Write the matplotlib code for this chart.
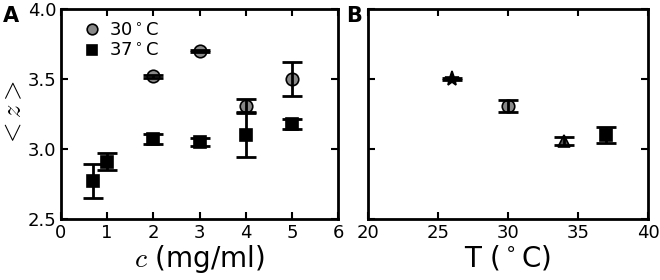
import matplotlib
matplotlib.use("Agg")
import matplotlib.pyplot as plt

# panel A: <z> vs concentration
c_30 = [2, 3, 4, 5]
z_30 = [3.52, 3.70, 3.31, 3.50]
e_30 = [0.01, 0.01, 0.045, 0.12]

c_37 = [0.7, 1, 2, 3, 4, 5]
z_37 = [2.77, 2.91, 3.07, 3.05, 3.10, 3.18]
e_37 = [0.12, 0.06, 0.035, 0.028, 0.16, 0.035]

# panel B: <z> vs temperature
T_vals = [26, 30, 34, 37]
z_T = [3.50, 3.31, 3.055, 3.10]
e_T = [0.01, 0.043, 0.028, 0.06]
T_markers = ['*', 'o', '^', 's']
T_colors = ['black', '#888888', '#555555', 'black']

plt.rcParams['font.family'] = 'DejaVu Sans'

fig = plt.figure(figsize=(6.6, 2.8), dpi=100)
axA = fig.add_axes([61/660, 61/280, 277/660, 210/280])
axB = fig.add_axes([368/660, 61/280, 280/660, 210/280])

ebkw = dict(fmt='none', ecolor='black', elinewidth=2, capsize=7, capthick=2,
            zorder=3)
mkw = dict(ls='none', markeredgecolor='black', markeredgewidth=1.2, zorder=2)

axA.plot(c_30, z_30, marker='o', color='#888888', ms=9, label=r'30$^\circ$C', **mkw)
axA.errorbar(c_30, z_30, yerr=e_30, **ebkw)
axA.plot(c_37, z_37, marker='s', color='black', ms=9, label=r'37$^\circ$C', **mkw)
axA.errorbar(c_37, z_37, yerr=e_37, **ebkw)

for t, z, e, m, col in zip(T_vals, z_T, e_T, T_markers, T_colors):
    axB.plot([t], [z], marker=m, color=col, ms=11 if m == '*' else 9, **mkw)
    axB.errorbar([t], [z], yerr=[e], **ebkw)

for ax in (axA, axB):
    ax.set_ylim(2.5, 4.0)
    ax.set_yticks([2.5, 3.0, 3.5, 4.0])
    ax.tick_params(direction='in', top=True, right=True, length=5, width=1.5,
                   labelsize=13)
    for s in ax.spines.values():
        s.set_linewidth(2)

axA.set_xlim(0, 6)
axA.set_xticks(range(7))
axA.set_ylabel(r'$<z>$', fontsize=19, labelpad=0, math_fontfamily='cm')
axA.set_xlabel(r'$c$ (mg/ml)', fontsize=20, labelpad=1, math_fontfamily='cm')
axA.legend(loc='upper left', bbox_to_anchor=(0.035, 1.0), frameon=False,
           fontsize=13, handletextpad=0.4, borderaxespad=0.3,
           labelspacing=0.15, handlelength=1.0, markerscale=0.85)

axB.set_xlim(20, 40)
axB.set_xticks([20, 25, 30, 35, 40])
axB.set_yticklabels([])
axB.set_xlabel(r'T ($^\circ$C)', fontsize=20, labelpad=1)

fig.text(3/660, 1 - 16/280, 'A', fontsize=15, fontweight='bold', va='center')
fig.text(346/660, 1 - 16/280, 'B', fontsize=15, fontweight='bold', va='center')

fig.savefig('out.png', dpi=100)
